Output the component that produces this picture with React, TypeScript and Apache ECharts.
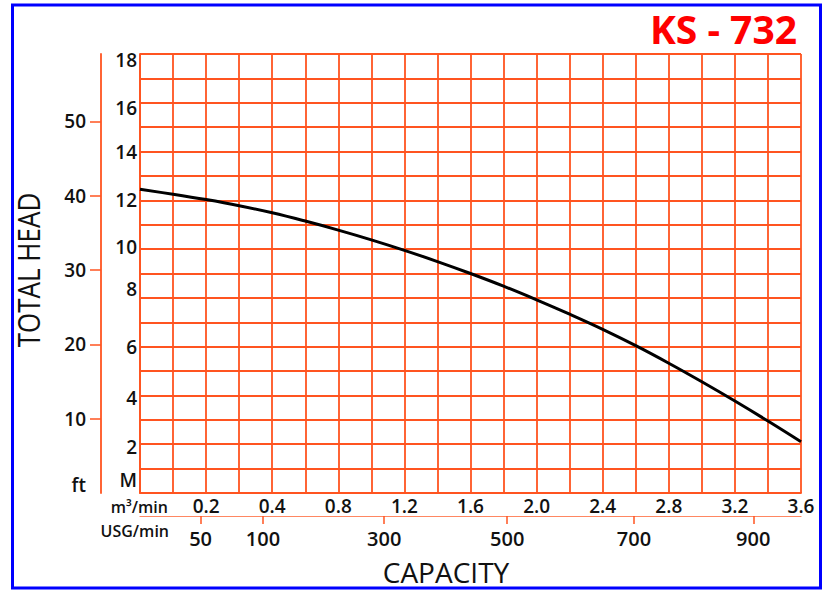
import React, { useEffect, useRef } from "react";
import * as echarts from "echarts";

// Capacity (m3/min) at each grid column, and total head (M)
const CAPACITY = [0, 0.18, 0.36, 0.54, 0.72, 0.9, 1.08, 1.26, 1.44, 1.62, 1.8, 1.98, 2.16, 2.34, 2.52, 2.7, 2.88, 3.06, 3.24, 3.42, 3.6];
const HEAD = [12.45, 12.25, 12.03, 11.78, 11.49, 11.15, 10.78, 10.38, 9.95, 9.49, 9.0, 8.48, 7.92, 7.33, 6.71, 6.04, 5.32, 4.56, 3.77, 2.95, 2.1];

// printed m3/min labels (one every second grid column)
const X_LABELS = ["0.2", "0.4", "0.8", "1.2", "1.6", "2.0", "2.4", "2.8", "3.2", "3.6"];
const X_LABEL_AT = [0.36, 0.72, 1.08, 1.44, 1.8, 2.16, 2.52, 2.88, 3.24, 3.6];

// USG/min labels and where they sit on the capacity scale
const USG_LABELS = ["50", "100", "300", "500", "700", "900"];
const USG_AT = [0.33, 0.67, 1.33, 2.0, 2.69, 3.34];

// metre labels on the head axis
const M_LABELS = ["18", "16", "14", "12", "10", "8", "6", "4", "2", "M"];
const M_LABEL_AT = [17.75, 15.8, 14, 12, 10.1, 8.35, 6, 3.9, 1.9, 0.55];

// feet axis
const FT_TICKS = [10, 20, 30, 40, 50];
const FT_LABELS = ["ft", "10", "20", "30", "40", "50"];
const FT_LABEL_AT = [1.1, 10, 20, 30, 40, 50];
const HEAD_MAX_M = 18;
const FT_PER_M = 3.28084;

const ORANGE = "#ff5420";
const TEXT = "#111111";
const FONT = "'Open Sans', sans-serif";

function nearestLabel(v: number, at: number[], labels: string[]) {
  let best = 0;
  for (let i = 1; i < at.length; i++) {
    if (Math.abs(at[i] - v) < Math.abs(at[best] - v)) best = i;
  }
  return labels[best];
}

const labelStyle = { fontFamily: FONT, color: TEXT, fontWeight: 600 };

export default function App() {
  const ref = useRef<HTMLDivElement>(null);
  useEffect(() => {
    if (!ref.current) return;
    const chart = echarts.init(ref.current, null, { renderer: "svg" });
    const option: any = {
      animation: false,
      backgroundColor: "#ffffff",
      grid: { left: 140, top: 54, right: 26, bottom: 99, outerBoundsMode: "none" },
      xAxis: [
        {
          type: "value",
          min: 0,
          max: 3.6,
          interval: 0.18,
          position: "bottom",
          axisLine: { show: true, onZero: false, lineStyle: { color: ORANGE, width: 1.8 } },
          axisTick: { show: false },
          splitLine: { show: true, lineStyle: { color: ORANGE, width: 1.8 } },
          axisLabel: {
            ...labelStyle,
            customValues: X_LABEL_AT,
            formatter: (v: number) => nearestLabel(v, X_LABEL_AT, X_LABELS),
            fontSize: 19,
            margin: 3,
          },
        },
        {
          type: "value",
          min: 0,
          max: 3.6,
          position: "bottom",
          offset: 23,
          axisLine: { show: true, onZero: false, lineStyle: { color: ORANGE, width: 1.2, opacity: 0.7 } },
          axisTick: { show: true, customValues: USG_AT, length: 8, lineStyle: { color: ORANGE, width: 1.5 } },
          splitLine: { show: false },
          axisLabel: {
            ...labelStyle,
            customValues: USG_AT,
            formatter: (v: number) => nearestLabel(v, USG_AT, USG_LABELS),
            fontSize: 20,
            margin: 12,
          },
        },
      ],
      yAxis: [
        {
          type: "value",
          min: 0,
          max: HEAD_MAX_M,
          interval: 1,
          position: "left",
          axisLine: { show: true, onZero: false, lineStyle: { color: ORANGE, width: 1.8 } },
          axisTick: { show: false },
          splitLine: { show: true, lineStyle: { color: ORANGE, width: 1.8 } },
          axisLabel: {
            ...labelStyle,
            customValues: M_LABEL_AT,
            formatter: (v: number) => nearestLabel(v, M_LABEL_AT, M_LABELS),
            fontSize: 19,
            margin: 3,
          },
        },
        {
          type: "value",
          min: 0,
          max: HEAD_MAX_M * FT_PER_M,
          position: "left",
          offset: 39,
          axisLine: { show: true, onZero: false, lineStyle: { color: ORANGE, width: 1.8 } },
          axisTick: { show: true, customValues: FT_TICKS, length: 11, lineStyle: { color: ORANGE, width: 1.5 } },
          splitLine: { show: false },
          axisLabel: {
            ...labelStyle,
            customValues: FT_LABEL_AT,
            formatter: (v: number) => nearestLabel(v, FT_LABEL_AT, FT_LABELS),
            fontSize: 19,
            margin: 15,
          },
        },
      ],
      series: [
        {
          type: "line",
          xAxisIndex: 0,
          yAxisIndex: 0,
          data: CAPACITY.map((c, i) => [c, HEAD[i]]),
          smooth: 0.4,
          symbol: "none",
          lineStyle: { color: "#000000", width: 3 },
          z: 10,
        },
      ],
      graphic: [
        {
          type: "text",
          x: 797,
          y: 28,
          style: {
            text: "KS - 732",
            align: "right",
            verticalAlign: "middle",
            fill: "#ff0000",
            fontSize: 39,
            fontWeight: "bold",
            fontFamily: FONT,
          },
        },
        {
          type: "text",
          x: 28,
          y: 270,
          rotation: Math.PI / 2,
          scaleY: 1.18,
          style: {
            text: "TOTAL HEAD",
            align: "center",
            verticalAlign: "middle",
            fill: TEXT,
            fontSize: 26,
            fontFamily: FONT,
          },
        },
        {
          type: "text",
          x: 446,
          y: 572,
          style: {
            text: "CAPACITY",
            align: "center",
            verticalAlign: "middle",
            fill: TEXT,
            fontSize: 28,
            fontFamily: FONT,
          },
        },
        {
          type: "text",
          x: 168,
          y: 507,
          style: {
            text: "m³/min",
            align: "right",
            verticalAlign: "middle",
            fill: TEXT,
            fontSize: 16,
            fontWeight: 600,
            fontFamily: FONT,
          },
        },
        {
          type: "text",
          x: 169,
          y: 531,
          style: {
            text: "USG/min",
            align: "right",
            verticalAlign: "middle",
            fill: TEXT,
            fontSize: 16,
            fontWeight: 600,
            fontFamily: FONT,
          },
        },
        {
          type: "rect",
          silent: true,
          z: 100,
          shape: { x: 12.5, y: 5, width: 808, height: 583 },
          style: { fill: "none", stroke: "#0000ff", lineWidth: 3 },
        },
      ],
    };
    chart.setOption(option);
    return () => chart.dispose();
  }, []);
  return (
    <div
      ref={ref}
      style={{ position: "absolute", left: 0, top: 0, width: 827, height: 592, background: "#ffffff" }}
    />
  );
}
